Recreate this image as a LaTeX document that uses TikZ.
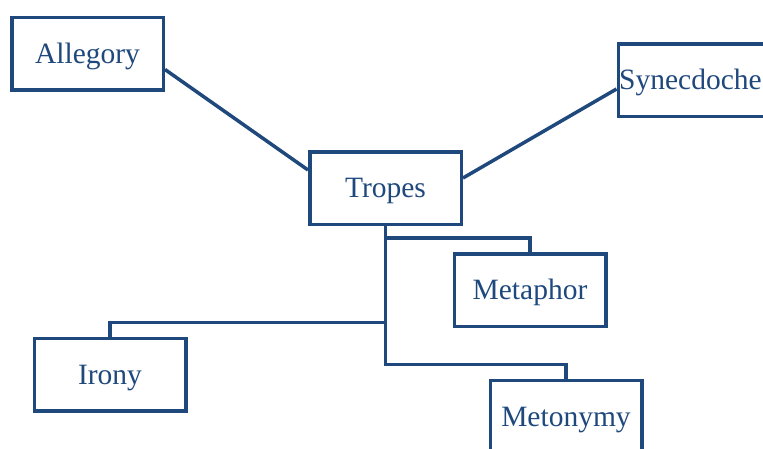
\documentclass[tikz,border=0pt]{standalone}
\usepackage{fontspec}
\setmainfont{Liberation Serif}
\definecolor{navy}{RGB}{31,73,125}
\begin{document}
\begin{tikzpicture}[x=1pt,y=-1pt,
  tbox/.style={draw=navy, line width=3.5pt, rectangle, minimum width=151.5pt, minimum height=72.5pt,
    inner sep=0pt, text=navy, font=\fontsize{29.5}{35}\selectfont, text height=19.5pt, text depth=0pt},
  link/.style={draw=navy, line width=3.5pt, line join=miter}]
\useasboundingbox (0,0) rectangle (763,448);
\clip (0,0) rectangle (763,448);
\fill[white] (0,0) rectangle (763,448);
\node[tbox] (Allegory) at (87.5,53.5) {Allegory};
\node[tbox] (Synecdoche) at (694,80) {\hspace*{-7pt}Synecdoche};
\node[tbox] (Tropes) at (385.5,188) {Tropes};
\node[tbox] (Metaphor) at (530,290) {Metaphor};
\node[tbox] (Irony) at (110,374.5) {Irony};
\node[tbox] (Metonymy) at (566,416.5) {Metonymy};
\draw[link] ([yshift=-16pt]Allegory.east) -- ([yshift=18pt]Tropes.west);
\draw[link] ([yshift=10pt]Tropes.east) -- ([yshift=-9pt]Synecdoche.west);
\draw[link] (Tropes.south) -- ++(0,12) -| (Metaphor.north);
\draw[link] (Tropes.south) -- ++(0,96.5) -| (Irony.north);
\draw[link] (Tropes.south) -- ++(0,138.5) -| (Metonymy.north);
\end{tikzpicture}
\end{document}
